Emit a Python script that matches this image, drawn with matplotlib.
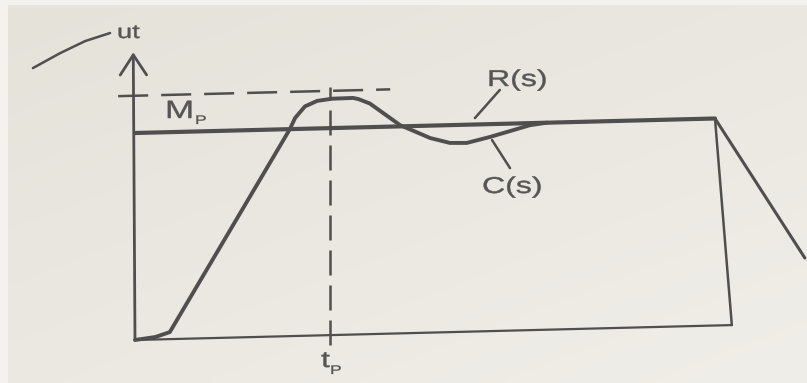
import numpy as np
import matplotlib
matplotlib.use("Agg")
import matplotlib.pyplot as plt
from matplotlib.transforms import Affine2D
from matplotlib.patheffects import AbstractPathEffect

# ---- data (time t, amplitude a) ----
# step input R(s)
r_time = [0.0, 10.0]
r_amp = [1.0, 1.0]

# response C(s): slow start, linear rise, overshoot, dip, settle on R
c_time = [0.0, 0.35, 0.6, 2.67, 2.76, 2.93, 3.14, 3.4, 3.76, 3.85, 4.05,
          4.57, 5.09, 5.43, 5.72, 6.12, 6.81, 7.1]
c_amp = [0.0, 0.012, 0.034, 1.0, 1.053, 1.108, 1.133, 1.142, 1.143, 1.137,
         1.114, 1.006, 0.94, 0.914, 0.912, 0.938, 0.99, 1.0]

# frame: baseline, right edge, falling ramp after the input ends
base_time = [0.0, 10.29]
base_amp = [0.0, 0.0]
edge_time = [10.0, 10.29]
edge_amp = [1.0, 0.0]
ramp_time = [10.0, 11.55]
ramp_amp = [1.0, 0.315]

# peak markers
mp_level = 1.18
mp_span = [-0.29, 4.4]
tp_time = 3.36
tp_span = [-0.05, 1.2]

# vertical axis
axis_top = 1.39

# leader strokes
ut_lead_t = [-1.76, -1.29, -0.86, -0.43]
ut_lead_a = [1.326, 1.395, 1.45, 1.486]
r_lead_t = [6.29, 5.86]
r_lead_a = [1.164, 1.031]
c_lead_t = [6.155, 6.466]
c_lead_a = [0.923, 0.785]

INK = "#4f4f4f"
TEXT_INK = "#555555"


class HStretch(AbstractPathEffect):
    """Widen glyphs horizontally about the text origin and thicken them."""

    def __init__(self, sx, weight=0.3):
        super().__init__()
        self.sx = sx
        self.weight = weight

    def draw_path(self, renderer, gc, tpath, affine, rgbFace=None):
        gc0 = renderer.new_gc()
        gc0.copy_properties(gc)
        gc0.set_linewidth(self.weight)
        gc0.set_foreground(rgbFace)
        gc0.set_joinstyle("round")
        renderer.draw_path(gc0, tpath, Affine2D().scale(self.sx, 1.0) + affine,
                           rgbFace)
        gc0.restore()


fig = plt.figure(figsize=(8.07, 3.83), dpi=100)
ax = fig.add_axes([0, 0, 1, 1])
ax.set_xlim(0, 807)
ax.set_ylim(383, 0)
ax.axis("off")

# paper background
gy, gx = np.mgrid[0:1:60j, 0:1:120j]
g = 0.55 * gy + 0.45 * gx
top = np.array([229, 226, 218]) / 255
bot = np.array([240, 238, 232]) / 255
bg = top[None, None, :] * (1 - g[..., None]) + bot[None, None, :] * g[..., None]
ax.imshow(bg, extent=[0, 807, 383, 0], aspect="auto", zorder=0,
          interpolation="bilinear")
ax.axvspan(0, 8, color="#f4f2ee", zorder=0.5, lw=0)
ax.axhspan(0, 5, color="#f4f2ee", zorder=0.5, lw=0)

# diagram coordinates -> page (slightly tilted sheet)
diag = Affine2D(np.array([[58.0, 0.0, 135.0],
                          [-1.45, -207.0, 340.0],
                          [0.0, 0.0, 1.0]])) + ax.transData

kw = dict(color=INK, transform=diag, solid_capstyle="round",
          solid_joinstyle="round", zorder=3)

ax.plot(base_time, base_amp, lw=1.6, **kw)
ax.plot(edge_time, edge_amp, lw=1.8, **kw)
ax.plot(ramp_time, ramp_amp, lw=2.2, **kw)
ax.plot(r_time, r_amp, lw=3.0, **kw)
ax.plot(c_time, c_amp, lw=2.8, **kw)

# dashed peak markers
ax.plot(mp_span, [mp_level, mp_level], lw=1.8, color=INK, transform=diag,
        dashes=(12, 5.2), zorder=3)
ax.plot([tp_time, tp_time], tp_span, lw=1.8, color=INK, transform=diag,
        dashes=(10, 4), zorder=3)

# vertical axis with open arrow head
ax.annotate("", xy=(-0.03, axis_top), xytext=(0.0, 0.0),
            xycoords=diag, textcoords=diag,
            arrowprops=dict(arrowstyle="->,head_length=1.45,head_width=0.95",
                            color=INK, lw=2.0, mutation_scale=10,
                            shrinkA=0, shrinkB=0), zorder=3)

# leader strokes
ax.plot(ut_lead_t, ut_lead_a, lw=1.8, **kw)
ax.plot(r_lead_t, r_lead_a, lw=1.8, **kw)
ax.plot(c_lead_t, c_lead_a, lw=1.8, **kw)

# labels
tkw = dict(color=TEXT_INK, family="Liberation Sans", ha="left",
           va="baseline", zorder=4)
fx = [HStretch(1.4, 0.3)]
fx_small = [HStretch(1.4, 0.2)]
ax.text(117, 38, "ut", fontsize=14, path_effects=fx, **tkw)
ax.text(165, 118, "M", fontsize=18, path_effects=fx, **tkw)
ax.text(195, 124, "P", fontsize=9, path_effects=fx_small, **tkw)
ax.text(487, 86, "R(s)", fontsize=16.5, path_effects=fx, **tkw)
ax.text(482, 193, "C(s)", fontsize=16.5, path_effects=fx, **tkw)
ax.text(321, 367, "t", fontsize=16.5, path_effects=fx, **tkw)
ax.text(330, 374, "P", fontsize=9, path_effects=fx_small, **tkw)

fig.savefig("out.png", dpi=100)
